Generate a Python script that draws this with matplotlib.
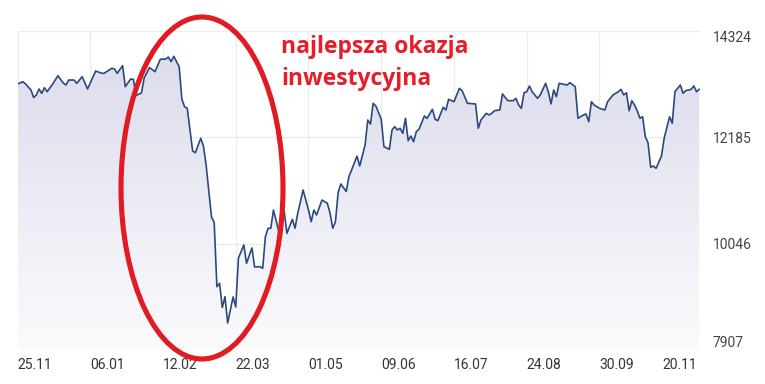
import matplotlib
matplotlib.use("Agg")
import matplotlib.pyplot as plt
import numpy as np
from matplotlib.colors import LinearSegmentedColormap
from matplotlib.patches import Ellipse

# trading-day index (0 = 25.11) and index level
days = [0, 2, 3, 5, 6, 7, 8, 9, 10, 11, 13, 15, 17, 18, 19, 21, 22, 24, 26, 29,
        31, 32, 34, 35, 36, 37, 39, 40, 42, 43, 44, 46, 47, 49, 51, 53, 55, 56, 57, 58,
        60, 61, 62, 63, 65, 66, 68, 69, 70, 72, 73, 74, 75, 76, 77, 78, 80, 81, 82, 84,
        85, 87, 88, 90, 91, 92, 93, 94, 95, 97, 98, 99, 100, 102, 103, 104, 106, 108, 109, 110,
        111, 113, 115, 116, 117, 118, 119, 120, 122, 123, 124, 126, 127, 129, 130, 131, 132, 133, 135, 136,
        138, 139, 140, 141, 142, 143, 144, 145, 146, 147, 148, 149, 151, 152, 154, 155, 156, 158, 159, 160,
        162, 164, 165, 167, 170, 171, 172, 174, 175, 176, 177, 179, 180, 181, 182, 184, 185, 186, 187, 188,
        189, 190, 191, 193, 194, 196, 197, 198, 199, 200, 201, 204, 205, 207, 208, 210, 211, 212, 213, 214,
        216, 218, 219, 220, 221, 223, 224, 225, 226, 227, 228, 229, 230, 231, 232, 233, 234, 235, 236, 237,
        239, 240, 242, 243, 244, 246, 247, 248, 250, 251, 252, 253]
values = [13258, 13304, 13258, 13137, 12986, 13037, 13157, 13071, 13183, 13103, 13252, 13425, 13278, 13238, 13338, 13338, 13272, 13405, 13157, 13519,
          13479, 13469, 13539, 13574, 13560, 13473, 13626, 13204, 13358, 13352, 13027, 13077, 13379, 13590, 13505, 13755, 13761, 13801, 13706, 13815,
          13606, 12956, 12801, 12769, 11910, 11876, 12166, 12011, 11628, 10582, 10472, 9180, 9249, 8762, 8979, 8450, 8973, 8772, 9758, 10019,
          9651, 9959, 9577, 9583, 9550, 10186, 10355, 10355, 10723, 10287, 10488, 10689, 10254, 10536, 10355, 10657, 11126, 10723, 10488, 10723,
          10623, 10924, 10858, 10657, 10355, 10488, 11075, 11246, 11095, 11397, 11528, 11809, 11608, 12031, 12534, 12453, 12870, 12815, 12548, 11997,
          11944, 12333, 12399, 12333, 12367, 12266, 12568, 12117, 12212, 12097, 12298, 12347, 12614, 12568, 12749, 12548, 12520, 12789, 12735, 12950,
          12902, 13171, 13123, 12870, 12856, 12367, 12534, 12668, 12634, 12668, 12721, 12735, 13057, 12990, 12922, 12922, 12970, 12835, 12769, 13083,
          13103, 13218, 13103, 12970, 13037, 13272, 13103, 12856, 13137, 13002, 13272, 13238, 13284, 13204, 12568, 12634, 12654, 12499, 12902, 12835,
          12769, 12735, 12902, 12970, 13037, 13103, 13151, 13037, 13083, 12721, 12922, 12835, 12721, 12568, 12600, 12198, 12077, 11582, 11608, 11562,
          11809, 12166, 12600, 12467, 13103, 13238, 13071, 13123, 13151, 13218, 13103, 13151]

tick_days = [0, 27, 54, 81, 108, 135, 162, 189, 216, 239.2]
tick_labels = ["25.11", "06.01", "12.02", "22.03", "01.05", "09.06", "16.07", "24.08", "30.09", "20.11"]
grid_days = tick_days[:9]
y_ticks = [7907, 10046, 12185, 14324]

annotation = "najlepsza okazja\ninwestycyjna"

W, H = 765, 384
fig = plt.figure(figsize=(W / 100, H / 100), dpi=100)
fig.patch.set_facecolor("white")
ax = fig.add_axes([17.5 / W, 1 - 350 / H, (700 - 17.5) / W, (350 - 31) / H])
ax.set_facecolor("white")
xmax = 253.3
ax.set_xlim(0, xmax)
ax.set_ylim(y_ticks[0], y_ticks[-1])

# gridlines
for gd in grid_days:
    ax.axvline(gd, color="#ebebf2", lw=1.0, zorder=0)
for yt in y_ticks:
    ax.axhline(yt, color="#ebebf2", lw=1.0, zorder=0)

# gradient fill under line
poly = ax.fill_between(days, values, y_ticks[0], facecolor="none", edgecolor="none")
cmap = LinearSegmentedColormap.from_list("g", ["#fbfbfd", "#dadaeb"])
grad = np.linspace(0, 1, 256).reshape(-1, 1)
im = ax.imshow(grad, extent=[0, xmax, y_ticks[0], y_ticks[-1]], aspect="auto",
               origin="lower", cmap=cmap, zorder=1)
im.set_clip_path(poly.get_paths()[0], transform=ax.transData)

ax.plot(days, values, color="#2a4a7f", lw=1.2, zorder=3)

for s in ax.spines.values():
    s.set_visible(False)

ax.set_xticks(tick_days)
ax.set_xticklabels(tick_labels)
ax.tick_params(axis="x", length=0, pad=6, labelsize=10, labelcolor="#333333")
for lab in ax.get_xticklabels():
    lab.set_fontfamily("Roboto")
    lab.set_horizontalalignment("left")

ax.yaxis.tick_right()
ax.set_yticks(y_ticks)
ax.set_yticklabels([str(v) for v in y_ticks])
ax.tick_params(axis="y", length=0, pad=9, labelsize=10, labelcolor="#444444")
ylabs = ax.get_yticklabels()
for lab in ylabs:
    lab.set_fontfamily("Roboto")
ylabs[0].set_verticalalignment("bottom")
ylabs[-1].set_verticalalignment("top")

# red ellipse and annotation (figure coordinates)
ell = Ellipse((202 / W, 1 - 188 / H), 162 / W, 342 / H, transform=fig.transFigure,
              fill=False, edgecolor="#e01b24", lw=3.7, clip_on=False, zorder=5)
fig.add_artist(ell)

lines = annotation.split("\n")
fig.text(281 / W, 1 - 52.7 / H, lines[0], color="#e41f2b", fontsize=16.5, fontweight="bold",
         family="Open Sans", va="baseline", ha="left")
fig.text(281 / W, 1 - 85 / H, lines[1], color="#e41f2b", fontsize=16.5, fontweight="bold",
         family="Open Sans", va="baseline", ha="left")

fig.savefig("out.png", dpi=100, facecolor="white")
